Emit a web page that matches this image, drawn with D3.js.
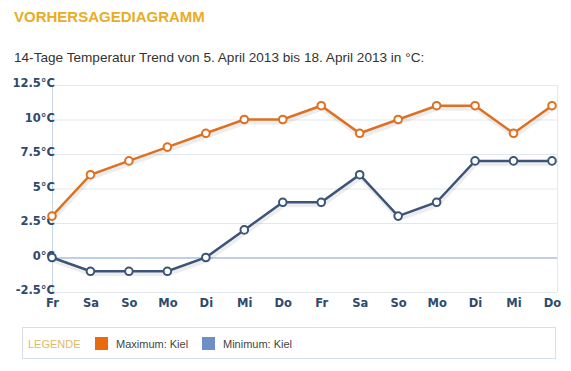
<!DOCTYPE html>
<html>
<head>
<meta charset="utf-8">
<script src="https://cdn.jsdelivr.net/npm/d3@7"></script>
<style>
	body { margin: 0; background: #fff; }
	svg { display: block; }
</style>
</head>
<body>
<svg id="chart" width="571" height="371"></svg>
<script>
let days = ["Fr","Sa","So","Mo","Di","Mi","Do","Fr","Sa","So","Mo","Di","Mi","Do"];
let maxTemps = [3, 6, 7, 8, 9, 10, 10, 11, 9, 10, 11, 11, 9, 11];
let minTemps = [0, -1, -1, -1, 0, 2, 4, 4, 6, 3, 4, 7, 7, 7];
let yTicks = [-2.5, 0, 2.5, 5, 7.5, 10, 12.5];
let legendItems = ["Maximum: Kiel", "Minimum: Kiel"];

let svg = d3.select("#chart");
let margin = { top: 85, left: 52, right: 557, bottom: 292 };

// titles
svg.append("text")
	.attr("x", 14).attr("y", 22)
	.attr("font-family", "Liberation Sans, Arial, sans-serif")
	.attr("font-size", 15).attr("font-weight", "bold")
	.attr("fill", "#e9ac26")
	.text("VORHERSAGEDIAGRAMM");

svg.append("text")
	.attr("x", 14).attr("y", 62)
	.attr("font-family", "Liberation Sans, Arial, sans-serif")
	.attr("font-size", 13.6)
	.attr("fill", "#333")
	.text("14-Tage Temperatur Trend von 5. April 2013 bis 18. April 2013 in °C:");

let x = d3.scalePoint().domain(d3.range(days.length)).range([margin.left, 552]);
let y = d3.scaleLinear().domain([-2.5, 12.5]).range([margin.bottom, margin.top]);

// grid
svg.append("g").selectAll("line")
	.data(yTicks)
	.enter().append("line")
	.attr("x1", margin.left).attr("x2", margin.right)
	.attr("y1", d => y(d) + 0.5).attr("y2", d => y(d) + 0.5)
	.attr("stroke", d => d === 0 ? "#a9bfdf" : "#e3e8ef")
	.attr("stroke-width", d => d === 0 ? 1.5 : 1);

svg.append("line")
	.attr("x1", margin.left + 0.5).attr("x2", margin.left + 0.5)
	.attr("y1", margin.top).attr("y2", margin.bottom)
	.attr("stroke", "#c9d4e3");
svg.append("line")
	.attr("x1", margin.right + 0.5).attr("x2", margin.right + 0.5)
	.attr("y1", margin.top).attr("y2", margin.bottom)
	.attr("stroke", "#e3e8ef");

// axes labels
let yAxis = svg.append("g")
	.attr("transform", "translate(" + (margin.left + 3) + ",-2)")
	.call(d3.axisLeft(y).tickValues(yTicks).tickSize(0).tickPadding(0)
		.tickFormat(d => d + "°C"));
yAxis.select(".domain").remove();
yAxis.selectAll("text")
	.attr("font-family", "Verdana, DejaVu Sans, sans-serif")
	.attr("font-size", 11.5).attr("font-weight", "bold")
	.attr("fill", "#2f4a6d");

let xAxis = svg.append("g")
	.attr("transform", "translate(0," + (margin.bottom + 7) + ")")
	.call(d3.axisBottom(x).tickSize(0).tickPadding(0).tickFormat(i => days[i]));
xAxis.select(".domain").remove();
xAxis.selectAll("text")
	.attr("font-family", "Verdana, DejaVu Sans, sans-serif")
	.attr("font-size", 11.5).attr("font-weight", "bold")
	.attr("fill", "#2f4a6d");

// lines
let line = d3.line().x((d, i) => x(i)).y(d => y(d));
let series = [
	{ values: maxTemps, color: "#dd7122" },
	{ values: minTemps, color: "#3b5477" }
];

series.forEach(s => {
	svg.append("path")
		.datum(s.values)
		.attr("d", line)
		.attr("transform", "translate(1,3)")
		.attr("fill", "none")
		.attr("stroke", "#000")
		.attr("stroke-opacity", 0.07)
		.attr("stroke-width", 4);
	svg.append("path")
		.datum(s.values)
		.attr("d", line)
		.attr("fill", "none")
		.attr("stroke", s.color)
		.attr("stroke-width", 2.5);
	svg.append("g").selectAll("circle")
		.data(s.values)
		.enter().append("circle")
		.attr("cx", (d, i) => x(i))
		.attr("cy", d => y(d))
		.attr("r", 3.8)
		.attr("fill", "#fff")
		.attr("stroke", s.color)
		.attr("stroke-width", 2);
});

// legend
let legend = svg.append("g");
legend.append("rect")
	.attr("x", 22.5).attr("y", 327.5)
	.attr("width", 533).attr("height", 31)
	.attr("fill", "#fff").attr("stroke", "#d5e0ea");
legend.append("text")
	.attr("x", 28).attr("y", 348)
	.attr("font-family", "Liberation Sans, Arial, sans-serif")
	.attr("font-size", 11)
	.attr("fill", "#e2b866")
	.text("LEGENDE");

let legendColors = ["#ea6a0e", "#6d8fc6"];
let legendX = [95, 202];
legendItems.forEach((name, i) => {
	legend.append("rect")
		.attr("x", legendX[i]).attr("y", 337)
		.attr("width", 13).attr("height", 13)
		.attr("fill", legendColors[i]);
	legend.append("text")
		.attr("x", legendX[i] + 21).attr("y", 348)
		.attr("font-family", "Liberation Sans, Arial, sans-serif")
		.attr("font-size", 11)
		.attr("fill", "#444")
		.text(name);
});
</script>
</body>
</html>
